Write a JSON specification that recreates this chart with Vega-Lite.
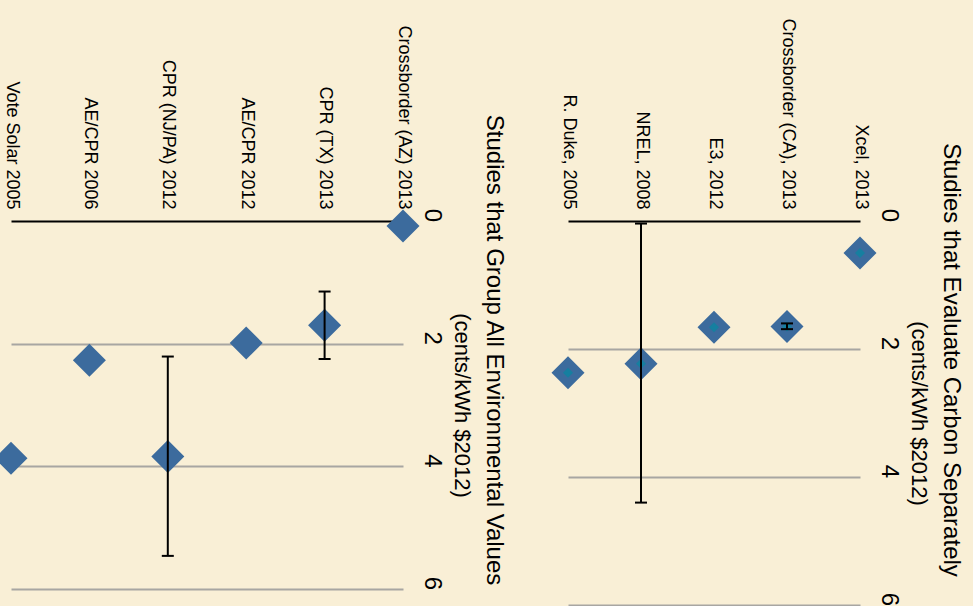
{
  "$schema": "https://vega.github.io/schema/vega-lite/v6.json",
  "background": "#F9EFD6",
  "padding": {"left": -6, "top": 17, "right": 10, "bottom": 10},
  "config": {
    "font": "Liberation Sans",
    "view": {"stroke": null},
    "axis": {"labelColor": "black", "titleColor": "black", "titleFontWeight": "normal"}
  },
  "spacing": 165,
  "bounds": "flush",
  "datasets": {
    "group": [
      {"study": "Vote Solar 2005", "value": 3.87},
      {"study": "AE/CPR 2006", "value": 2.27},
      {"study": "CPR (NJ/PA) 2012", "value": 3.84, "lo": 2.21, "hi": 5.46},
      {"study": "AE/CPR  2012", "value": 1.99},
      {"study": "CPR (TX) 2013", "value": 1.70, "lo": 1.15, "hi": 2.25},
      {"study": "Crossborder (AZ) 2013", "value": 0.08}
    ],
    "carbon": [
      {"study": "R. Duke, 2005", "value": 2.37},
      {"study": "NREL, 2008", "value": 2.23, "lo": 0.04, "hi": 4.4},
      {"study": "E3, 2012", "value": 1.66},
      {"study": "Crossborder (CA), 2013", "value": 1.65, "lo": 1.60, "hi": 1.69},
      {"study": "Xcel, 2013", "value": 0.5}
    ]
  },
  "hconcat": [
    {
      "width": 392,
      "height": 368,
      "data": {"name": "group"},
      "title": {"text": "Studies that Group All Environmental Values", "orient": "right", "anchor": "middle", "fontSize": 24, "fontWeight": "normal", "color": "black", "dx": -55, "offset": 10},
      "encoding": {
        "x": {"field": "study", "type": "nominal", "sort": null, "scale": {"type": "point", "padding": 0},
          "axis": {"orient": "top", "title": null, "labelAngle": 90, "labelAlign": "right", "labelBaseline": "middle", "labelFontSize": 18, "labelPadding": 12, "ticks": false, "tickSize": 0, "domainColor": "black", "domainWidth": 2, "grid": false, "labelLimit": 0}},
        "y": {"field": "value", "type": "quantitative", "title": "(cents/kWh $2012)", "scale": {"domain": [0, 6], "reverse": true, "nice": false},
          "axis": {"orient": "right", "values": [0, 2, 4, 6], "format": "d", "labelAngle": 90, "labelAlign": "center", "labelBaseline": "bottom", "labelFontSize": 24, "labelPadding": 16, "labelOffset": -6, "ticks": false, "tickSize": 0, "domain": false, "grid": true, "gridColor": {"condition": {"test": "datum.value === 0", "value": "transparent"}, "value": "#A8A6A2"}, "gridWidth": 2, "titleFontSize": 22, "titleAngle": 90, "titlePadding": 6}}
      },
      "layer": [
        {"mark": {"type": "point", "shape": "diamond", "filled": true, "size": 1090, "opacity": 1, "color": "#3C6B9D"}},
        {"transform": [{"filter": "isValid(datum.lo)"}],
          "mark": {"type": "rule", "color": "black", "strokeWidth": 2},
          "encoding": {"y": {"field": "lo", "type": "quantitative", "title": "(cents/kWh $2012)", "scale": {"domain": [0, 6], "reverse": true, "nice": false}}, "y2": {"field": "hi"}}},
        {"transform": [{"filter": "isValid(datum.lo)"}],
          "mark": {"type": "tick", "color": "black", "thickness": 2, "size": 12, "opacity": 1},
          "encoding": {"y": {"field": "lo", "type": "quantitative", "title": "(cents/kWh $2012)", "scale": {"domain": [0, 6], "reverse": true, "nice": false}}}},
        {"transform": [{"filter": "isValid(datum.lo)"}],
          "mark": {"type": "tick", "color": "black", "thickness": 2, "size": 12, "opacity": 1},
          "encoding": {"y": {"field": "hi", "type": "quantitative", "title": "(cents/kWh $2012)", "scale": {"domain": [0, 6], "reverse": true, "nice": false}}}}
      ]
    },
    {
      "width": 292,
      "height": 384,
      "data": {"name": "carbon"},
      "title": {"text": "Studies that Evaluate Carbon Separately", "orient": "right", "anchor": "middle", "fontSize": 24, "fontWeight": "normal", "color": "black", "dx": -53, "offset": 10},
      "encoding": {
        "x": {"field": "study", "type": "nominal", "sort": null, "scale": {"type": "point", "padding": 0},
          "axis": {"orient": "top", "title": null, "labelAngle": 90, "labelAlign": "right", "labelBaseline": "middle", "labelFontSize": 18, "labelPadding": 12, "ticks": false, "tickSize": 0, "domainColor": "black", "domainWidth": 2, "grid": false, "labelLimit": 0}},
        "y": {"field": "value", "type": "quantitative", "title": "(cents/kWh $2012)", "scale": {"domain": [0, 6], "reverse": true, "nice": false},
          "axis": {"orient": "right", "values": [0, 2, 4, 6], "format": "d", "labelAngle": 90, "labelAlign": "center", "labelBaseline": "bottom", "labelFontSize": 24, "labelPadding": 16, "labelOffset": -6, "ticks": false, "tickSize": 0, "domain": false, "grid": true, "gridColor": {"condition": {"test": "datum.value === 0", "value": "transparent"}, "value": "#A8A6A2"}, "gridWidth": 2, "titleFontSize": 22, "titleAngle": 90, "titlePadding": 6}}
      },
      "layer": [
        {"mark": {"type": "point", "shape": "diamond", "filled": true, "size": 1090, "opacity": 1, "color": "#3C6B9D"}},
        {"mark": {"type": "point", "shape": "diamond", "filled": true, "size": 100, "opacity": 1, "color": "#167FA0"}},
        {"transform": [{"filter": "isValid(datum.lo)"}],
          "mark": {"type": "rule", "color": "black", "strokeWidth": 2},
          "encoding": {"y": {"field": "lo", "type": "quantitative", "title": "(cents/kWh $2012)", "scale": {"domain": [0, 6], "reverse": true, "nice": false}}, "y2": {"field": "hi"}}},
        {"transform": [{"filter": "isValid(datum.lo)"}],
          "mark": {"type": "tick", "color": "black", "thickness": 2, "size": 12, "opacity": 1},
          "encoding": {"y": {"field": "lo", "type": "quantitative", "title": "(cents/kWh $2012)", "scale": {"domain": [0, 6], "reverse": true, "nice": false}}}},
        {"transform": [{"filter": "isValid(datum.lo)"}],
          "mark": {"type": "tick", "color": "black", "thickness": 2, "size": 12, "opacity": 1},
          "encoding": {"y": {"field": "hi", "type": "quantitative", "title": "(cents/kWh $2012)", "scale": {"domain": [0, 6], "reverse": true, "nice": false}}}}
      ]
    }
  ]
}
